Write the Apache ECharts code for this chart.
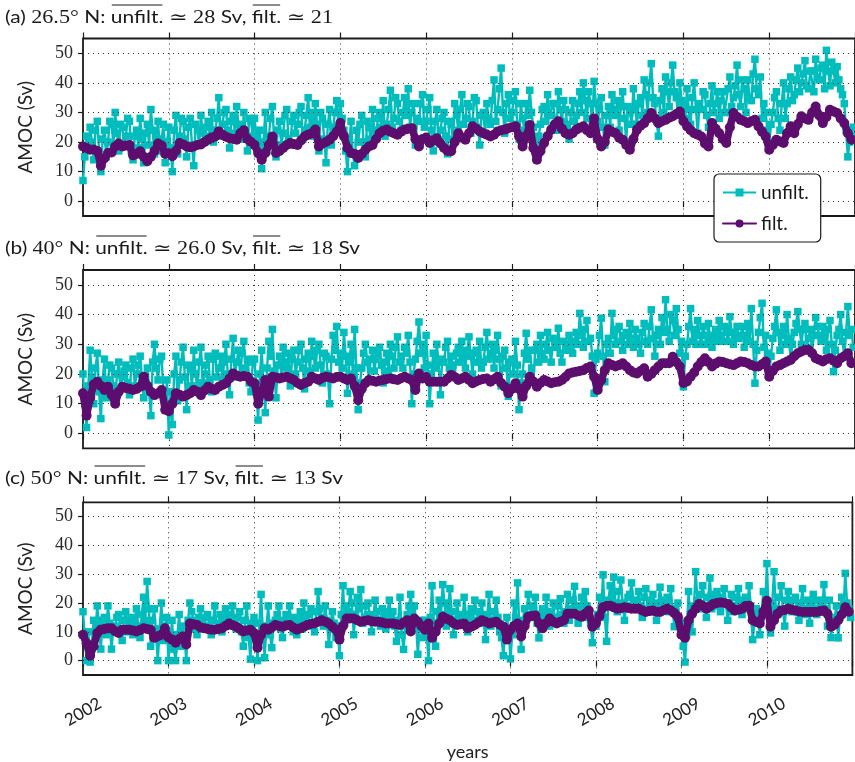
<!DOCTYPE html>
<html><head><meta charset="utf-8">
<script src="https://cdn.jsdelivr.net/npm/echarts@6/dist/echarts.min.js"></script>
<style>html,body{margin:0;padding:0;background:#fff}#c{width:855px;height:762px}</style>
</head><body><div id="c"></div>
<script>
// ---- tick labels ----
const years = ['2002','2003','2004','2005','2006','2007','2008','2009','2010'];
const yTicks = [0, 10, 20, 30, 40, 50];
// samples every 1/24 year starting 2002.0; "Mid" arrays are the samples half a step later
const T0 = 2002, STEP = 1 / 24;

// ---- (a) 26.5N ----
const aUnfilt = [
 7,22,25,14,27,10,24,20,26,30,17,25,22,27,14,24,28,13,26,31,16,27,21,13,
 25,10,29,22,27,15,28,12,24,29,20,27,30,24,35,26,31,18,29,32,25,30,17,27,
 28,16,11,30,22,32,15,27,23,31,19,29,26,32,24,35,30,33,17,28,13,31,25,34,
 33,24,10,27,12,20,29,15,25,31,22,30,34,26,37.5,28,33,24,35,38,30,19,27,36,
 27,35,17,31,24,30,16,26,33,24,36,28,32,27,34,19,30,33,26,41,31,45,23,36,
 30,37,21,28,33,37.5,25,14,26,32,36,29,33,37,27,31,21,34,29,37,40,28,33,40.5,
 27,35,19,32,36,29,24,37,20,30,38,26,35,41,30,46.5,33,22,38,42,32,46,35,40,
 33,38,26,40,23,31,36,25,39,33,28,37,30,42,35,46,32,38,41,34,48,36,28,30,
 20,30,37,24,40,33,42,36,45,40,47.5,38,44,48,41,46,51,39,44,45.5,38,33,15,22
];
const aUnfiltMid = [
 15,18,20,24,17,21,15,27,19,23,26,19,28,17,22,18,21,23,19,24,22,17,26,20,
 18,24,16,28,21,25,19,26,19,23,25,22,20,28,22,30,24,27,23,26,21,24,28,22,
 22,24,20,17,28,20,24,19,29,21,27,23,30,21,29,25,22,26,30,21,26,19,30,24,
 28,17,20,16,24,26,20,27,21,24,28,25,22,31,25,35,27,30,29,25,33,28,33,25,
 31,24,27,20,28,22,27,21,29,31,26,33,23,35,25,29,23,28,34,27,38,30,33,28,
 34,26,33,24,29,30,20,22,31,27,29,33,24,31,34,26,30,27,33,30,34,37,26,33,
 31,25,29,25,31,34,32,28,32,26,31,33,29,36,40,35,27,34,30,37,40,37,29,34,
 28,31,35,31,33,37,29,33,30,37,34,30,38,32,39,36,41,30,35,43,38,42,33,24,
 26,35,28,33,28,38,34,41,37,43,39,44,37,42,45,38,44,47,40,41,36,24,20,25
];
const aFilt = [
 18.5,18,17.4,17.5,17,12,14.5,16.3,16.5,18.5,19.5,18.5,18.8,19,15.5,16,16.9,15,13.5,15,17,19.5,18.8,16,
 16.2,15.2,17,19.7,19.2,18.5,18.2,18.5,19,19.2,20,20.8,21.5,21.9,23.6,22.5,21.8,21.3,21,20.8,23,24,21,20,
 19,16.3,14,16.3,19,21.9,16.3,17,18,19,19.7,19.3,19,20.5,21.9,22.5,23,24.2,18.5,19.5,20,20.8,22,23.5,
 26.4,22,18,16.3,16,14.6,16,17.4,18.5,19,21,23,23.8,24.2,23.5,23,22.5,23.5,24.2,24.5,24.7,21,18.5,21,
 21.5,19.7,20.5,21.3,19.5,18,17,16.9,20,23,21.5,20.8,23,25.3,24.5,23.6,23,22.5,21.9,22.5,23.6,24,24.2,24.7,
 25,25.3,22,18.5,22,25.8,18,14,17,19.7,22,24.2,26,27,24.5,23,22.5,23,24.2,24.8,25.3,24,23,28,
 21,18.5,20,24.2,23.5,23,21.5,20.8,19,17.4,21,24.2,25.5,26.4,28,29.8,28,26.4,27,27.5,28.2,28.7,29.5,30.3,
 27,25.3,24,23,22.5,21.9,19.5,18.5,26.4,24.5,23,21,19.7,25,29.8,28.5,27.5,27,26.4,27,27.5,25.3,23.5,21.9,
 17.4,19,20.8,20.2,19.7,23,25.3,23,26,28.7,28,27.5,30,32,29,26.4,28.5,30.9,30.3,29.8,28,26.4,23,20.8
];

// ---- (b) 40N ----
const bUnfilt = [
 20,2,28,10,27,5,25,18,22,11,24,19,23,13,25,20,26,12,22,6,30,18,26,8,
 -0.5,3,26,18,29,8,22,28,15,29,20,26,14,27,22,18,30,13,32,24,19,31,25,14,
 25,4.5,28,7,31,35,12,26,29,22,16,28,24,30,15,27,31,22,30,17,26,10,33,36,
 27,34,13.5,30,35,8,22,30,18,28,25,29,17,27,30,22,32.5,26,29,33,10,25,37.5,30,
 33,10,27,30,13,24,31,26,19,29,31,22,32.5,20,28,31,24,34,27,22,33,16,28,12.5,
 25,31,8,20,33.7,28,17,30,33,25,34,24,31,35.4,24,30,33,27,34,40.4,29,38,32,13.5,
 27,38.8,17.4,32,40.4,30,36,28,34,37,29,32,27,37,30,41.6,26,35,39,45,31,38,42,27,
 15.7,30,42,35,38,30,33,37,29,35,38,31,34,39.3,30,36,33,29,37,42,16.9,34,43.8,33,
 20.2,32,41.6,28,36,40,25,34,41,30,37,32,27,39,33,36,28,38,20.8,33,40,26,42.7,35
];
const bUnfiltMid = [
 10,16,19,22,14,18,12,23,16,20,15,21,17,22,16,23,18,19,14,24,22,25,13,18,
 14,20,11,24,19,23,16,20,24,17,23,18,25,19,26,24,20,25,19,28,27,22,17,24,
 14,20,17,22,26,21,23,19,24,27,25,20,28,22,25,21,26,28,23,27,20,25,28,24,
 22,26,24,20,22,17,27,24,25,21,27,23,24,21,26,29,24,22,27,24,20,31,27,22,
 23,20,22,24,25,29,22,23,27,24,26,28,26,27,24,22,29,25,30,28,25,26,22,24,
 20,23,17,27,25,22,28,24,27,30,28,32,29,27,31,28,29,31,30,33,35,31,26,25,
 33,26,30,27,33,35,31,33,30,32,35,30,34,31,36,32,33,30,34,35,40,33,35,31,
 26,36,31,30,33,36,30,31,33,31,33,36,31,34,33,32,36,33,31,30,28,39,29,27,
 26,36,34,33,30,32,30,37,35,35,29,35,33,36,31,33,35,30,28,35,31,34,33,29
];
const bFilt = [
 13.5,6,12,16.5,17.4,16,14.6,15.7,13,10,14,15.7,15.3,15,14.6,15,15.7,19.1,16,14,12.9,13.5,14.6,8,
 7.5,10,13.5,13,12.4,12.9,13.5,14.6,14,12.9,14.5,15.7,15,14.6,15.7,16.3,16.9,18.5,20.2,19.5,19.1,19.3,19.1,17.5,
 16.9,10,14,18,12.4,19.1,18.8,18.5,18.8,19.1,18.5,18,17,16.3,17,17.4,19.1,18.5,18,18.7,19.1,18.8,18.5,19,
 19.1,18.5,18,18.5,16,11.2,15,16.9,18,17.7,17.4,17.8,18,18.3,18.5,18.2,18,18.6,19.1,18.5,18,14.6,20.2,18.5,
 19,17.4,17.4,17.4,17.4,17.4,18.5,19.7,19,18,18.5,19.1,18,16.9,17.5,18,18.3,18.5,17.4,18.2,19.1,17,15.7,13.5,
 15,16.9,15,12.4,16,19.1,17.5,15.7,17,18,17.5,16.9,17.2,17.4,18,19,20.2,20.5,20.8,21,21.3,22,22.5,19.1,
 14.6,18,21.3,23.6,23,22.5,23,23.6,22.5,21.3,20.5,20.2,21,21.9,19.1,20,21.3,22.5,23.6,23.6,23.6,25.8,24,22.5,
 17,17.5,19.1,20.5,22.5,24,25.3,24,22.5,23.5,24.2,24,23.6,23.3,23,23.6,24.2,24,23.6,23,22.5,22.5,23.3,24.2,
 19.1,21,22.5,23,23.6,24.2,24.7,26,27,27.6,28.1,28.1,27,25.3,24.8,24.2,25,25.3,24.5,23.6,25.3,26,27,23.6
];

// ---- (c) 50N ----
const cUnfilt = [
 17,0,-0.5,14,19,4,15,19,4,12,16,7,17,13,9,18,8,22,27.5,5,18,0,20,12,
 0,14,0,16,12,0,20,14,9,18,12,16,9,19,13,10,18,15,19,11,17,5,19,0.5,
 15,0,23,1,19,4.5,14,19,8,16,19,10,9,17,20,12,18,10,24,15,19,5.6,17,8,
 1.7,26,19,24,9,22,24.7,15,20,10,21,14,18,11,21,17,6.7,22,3.9,16,23,19,2.2,14,
 14,0,26,5,21,26.4,12,25,9,20,14,22,10,18,21,13,20,7.3,23,14,21,10,1.7,15,
 0.6,20,27,3.9,18,23,15,22,7.9,18,22,12,20,15,21.5,13,23,18,25.8,13,22,24,15,6.2,
 12,22,29.8,6.7,26,29,17,28,14,22,27,18,24,15,25,19,23,14,25.5,18,22,25,11.8,20,
 13,-0.5,24,10,30.9,18,26,15,28.7,21,24,17,25,14,23,19,25,16,22,26,7.3,18,9,24,
 33.7,9.6,30.9,16,26,12,24,17,22,14,25,18,13,23,16,20,26.4,12,8,15,7.9,22,30.3,18
];
const cUnfiltMid = [
 8,10,6,10,12,14,9,13,11,15,11,14,10,15,13,12,16,14,18,14,9,11,7,15,
 7,4,9,5,8,14,17,11,15,13,15,12,14,11,16,14,12,16,13,15,10,14,8,13,
 8,13,10,12,9,13,16,11,14,12,13,15,13,11,14,16,13,17,18,12,14,11,13,12,
 16,13,17,20,16,18,13,19,16,15,17,12,15,17,15,12,14,9,12,19,17,13,11,8,
 9,15,13,17,16,20,19,17,14,16,13,16,15,14,17,16,13,16,12,17,15,8,9,11,
 9,15,12,14,16,19,18,13,16,14,17,15,13,19,16,17,14,21,19,16,18,19,13,12,
 16,18,15,21,22,20,24,20,19,23,21,20,19,22,18,21,17,20,19,21,17,18,16,14,
 5,9,16,19,21,23,19,22,18,23,19,22,20,19,17,22,20,21,18,19,13,15,17,18,
 16,20,18,22,17,21,19,21,17,20,16,21,19,18,21,17,18,21,13,19,15,18,20,15
];
const cFilt = [
 9,6,1.7,5,9.6,10.7,11,11.2,11.2,10.2,9.6,10.7,10.7,10.7,10.5,10.1,10.6,11.2,11,10.7,7.9,8.5,9,11.2,
 8,7.3,6.2,7.5,8.4,5.6,12.9,12.6,12.4,11.5,11.2,11,10.7,10.7,11,11.2,12,12.9,12.3,11.8,11,10.1,10.5,10.7,
 9.6,4.5,9,11.2,10.7,11.5,12.4,12,11.8,12.2,12.4,11.5,10.7,11.2,11.8,12.4,12.7,12.9,13.5,14,13.5,12.9,11.8,10.7,
 7.3,12,14.6,14.6,14.6,14,13.5,13.8,14,13.7,13.5,13.5,13.2,12.9,12.9,12.9,12.6,12.4,13.2,14,10.1,14.6,13.5,12,
 10.7,12.9,7.9,10,12.9,15.2,14.5,14,13,12.4,12.6,12.9,11.2,11.8,12.4,13.2,14,13.5,12.9,13.2,13.5,12.5,11.8,7.3,
 10.7,12,12.9,8.4,12,15.2,15.5,15.7,13,11.2,13,14.6,13.5,12.9,13.5,14,16.3,16.3,16.3,15.7,15.2,16.3,17.4,11.8,
 12.9,15.5,18.5,19,19.1,18.5,18,18.2,18.5,18.3,18,18,18,17.4,16.9,17.2,17.4,17,16.9,17.5,18,17.4,16.5,15.2,
 9,7.9,14,16.3,18,19.7,19,18,18.8,19.7,20,20.2,20,19.7,18.5,17.4,17.7,18,19,19.1,14,13.5,12.9,17,
 20.8,11.8,14,16.3,17.4,17.6,18,17.7,17.4,17.1,16.9,16.9,16.9,16.9,16.9,17.2,17.4,16.3,11.8,12.5,14,16,18.5,17
];

// ---- titles ----
const titleA = [['(a) ','s'],['26.5°','r'],[' N: ','s'],['unfilt.','s',1],[' ≃ 28 ','r'],['Sv, ','s'],['filt.','s',1],[' ≃ 21','r']];
const titleB = [['(b) ','s'],['40°','r'],[' N: ','s'],['unfilt.','s',1],[' ≃ 26.0 ','r'],['Sv, ','s'],['filt.','s',1],[' ≃ 18 ','r'],['Sv','s']];
const titleC = [['(c) ','s'],['50°','r'],[' N: ','s'],['unfilt.','s',1],[' ≃ 17 ','r'],['Sv, ','s'],['filt.','s',1],[' ≃ 13 ','r'],['Sv','s']];

const SANS = 'Lato, "Open Sans", "DejaVu Sans", sans-serif';
const SERIF = '"Liberation Serif", "DejaVu Serif", serif';
const CYAN = '#00BDBD', PURPLE = '#5C0D6E', INK = '#1a1a1a';

const panels = [
  {top: 38.5, height: 177.5, unf: aUnfilt, mid: aUnfiltMid, fil: aFilt, title: titleA, tRight: 333, tY: 18},
  {top: 270, height: 178.3, unf: bUnfilt, mid: bUnfiltMid, fil: bFilt, title: titleB, tRight: 360, tY: 249},
  {top: 502.3, height: 177.7, unf: cUnfilt, mid: cUnfiltMid, fil: cFilt, title: titleC, tRight: 343, tY: 479}
];

const pts = arr => arr.map((v, i) => [T0 + i * STEP, v]);
const ptsMerged = (a, m) => {
  const out = [];
  a.forEach((v, i) => { out.push([T0 + i * STEP, v]); if (i < m.length) out.push([T0 + (i + 0.5) * STEP, m[i]]); });
  return out;
};

const grid = [], xAxis = [], yAxis = [], series = [], graphic = [];
const ctx = document.createElement('canvas').getContext('2d');
const fontOf = k => (k === 's' ? '17px ' + SANS : '18px ' + SERIF);

panels.forEach((p, i) => {
  grid.push({left: 83, width: 776, top: p.top, height: p.height, show: true,
             borderColor: INK, borderWidth: 1.8, backgroundColor: 'transparent'});
  xAxis.push({
    type: 'value', gridIndex: i, min: 2002, max: 2011, interval: 1,
    axisLine: {show: false},
    axisTick: {show: true, inside: false, length: 6, lineStyle: {color: INK, width: 1.2}},
    axisLabel: {show: i === 2, rotate: 30, align: 'center', verticalAlign: 'middle', margin: 37,
                fontFamily: SANS, fontSize: 17, color: '#222',
                formatter: v => (years.indexOf(String(v)) >= 0 ? String(v) : '')},
    splitLine: {show: true, lineStyle: {type: [1, 4], color: '#333', width: 1}},
    name: i === 2 ? 'years' : '', nameLocation: 'middle', nameGap: 68,
    nameTextStyle: {fontFamily: SANS, fontSize: 18, color: '#222'}
  });
  xAxis.push({
    type: 'value', gridIndex: i, position: 'top', min: 2002, max: 2011, interval: 1,
    axisLine: {show: false}, axisLabel: {show: false}, splitLine: {show: false},
    axisTick: {show: true, inside: false, length: 6, lineStyle: {color: INK, width: 1.2}}
  });
  yAxis.push({
    type: 'value', gridIndex: i, min: -5, max: 55,
    axisLine: {show: false}, splitLine: {show: false},
    axisTick: {show: true, inside: false, length: 5, customValues: yTicks, lineStyle: {color: INK, width: 1.2}},
    axisLabel: {customValues: yTicks, margin: 10, fontFamily: SERIF, fontSize: 18, color: '#2a2a2a'},
    name: 'AMOC (Sv)', nameLocation: 'middle', nameGap: 48,
    nameTextStyle: {fontFamily: SANS, fontSize: 19, color: '#222'}
  });
  // horizontal dotted grid lines
  series.push({
    type: 'line', xAxisIndex: 2 * i, yAxisIndex: i, data: [[2002, -100]], showSymbol: false,
    lineStyle: {opacity: 0}, z: 1, silent: true, animation: false, legendHoverLink: false,
    markLine: {silent: true, symbol: ['none', 'none'], label: {show: false}, animation: false,
               lineStyle: {type: [1, 4], color: '#333', width: 1},
               data: yTicks.map(v => ({yAxis: v}))}
  });
  series.push({
    name: 'unfilt.', type: 'line', xAxisIndex: 2 * i, yAxisIndex: i, data: ptsMerged(p.unf, p.mid),
    symbol: 'rect', symbolSize: 7.5, showSymbol: true, z: 2, animation: false,
    lineStyle: {color: CYAN, width: 2.4}, itemStyle: {color: CYAN}
  });
  series.push({
    name: 'filt.', type: 'line', xAxisIndex: 2 * i, yAxisIndex: i, data: pts(p.fil),
    symbol: 'circle', symbolSize: 10, showSymbol: true, z: 3, animation: false,
    lineStyle: {color: PURPLE, width: 7.5, join: 'round', cap: 'round'}, itemStyle: {color: PURPLE}
  });

  // title with overlines
  let W = 0;
  const segs = p.title.map(s => { ctx.font = fontOf(s[1]); const w = ctx.measureText(s[0]).width; const o = {t: s[0], k: s[1], over: !!s[2], x: W, w}; W += w; return o; });
  const sc = (p.tRight - 5) / W;
  segs.forEach(s => {
    graphic.push({type: 'text', x: 5 + s.x * sc, y: p.tY, scaleX: sc, silent: true,
      style: {text: s.t, font: fontOf(s.k), fill: INK, verticalAlign: 'middle', align: 'left'}});
    if (s.over) {
      const x1 = 5 + s.x * sc + 1, x2 = 5 + (s.x + s.w) * sc - 1;
      graphic.push({type: 'line', silent: true, shape: {x1, y1: p.tY - 13, x2, y2: p.tY - 13},
        style: {stroke: INK, lineWidth: 1}});
    }
  });
});

const chart = echarts.init(document.getElementById('c'), null, {renderer: 'canvas'});
chart.setOption({
  animation: false,
  backgroundColor: '#fff',
  grid, xAxis, yAxis, series, graphic,
  legend: {
    data: ['unfilt.', 'filt.'], orient: 'vertical', left: 714, top: 174,
    backgroundColor: '#fff', borderColor: INK, borderWidth: 1.2, borderRadius: 5,
    padding: [9, 12, 9, 8], itemGap: 12, itemWidth: 33, itemHeight: 10, z: 10,
    textStyle: {fontFamily: SANS, fontSize: 19, color: INK}
  }
});
</script></body></html>
